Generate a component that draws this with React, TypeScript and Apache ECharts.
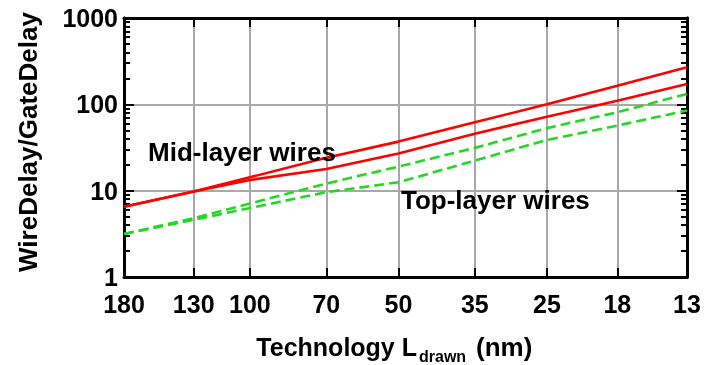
import React, { useEffect, useRef } from "react";
import * as echarts from "echarts";

const techNodes = [180, 130, 100, 70, 50, 35, 25, 18, 13];
const midLayerUpper = [6.5, 9.8, 14.3, 24, 37, 62, 100, 164, 269];
const midLayerLower = [6.5, 9.8, 13.3, 17.8, 27, 45.5, 72, 110, 172];
const topLayerUpper = [3.15, 4.8, 7.1, 12.1, 19, 31.3, 53, 81, 132];
const topLayerLower = [3.15, 4.6, 6.3, 9.6, 12.5, 22.3, 38.7, 56.8, 84.6];
const yMajorTicks = [1, 10, 100, 1000];
const yMinorTicks = [2, 3, 4, 5, 6, 7, 8, 9, 20, 30, 40, 50, 60, 70, 80, 90, 200, 300, 400, 500, 600, 700, 800, 900];

const FONT = '"Liberation Sans", Arial, Helvetica, sans-serif';
const lg = (v: number) => Math.log10(v);

export default function App() {
  const ref = useRef<HTMLDivElement>(null);

  useEffect(() => {
    if (!ref.current) return;
    const chart = echarts.init(ref.current, null, { renderer: "svg" });

    const xMin = lg(Math.min(...techNodes));
    const xMax = lg(Math.max(...techNodes));
    const yMin = lg(yMajorTicks[0]);
    const yMax = lg(yMajorTicks[yMajorTicks.length - 1]);
    const xTicks = techNodes.map(lg);
    const yMinor = yMinorTicks.map(lg);

    const mk = (vals: number[]) => techNodes.map((n, i) => [lg(n), lg(vals[i])]);
    const red = { color: "#ff0000", width: 2.6 };
    const green = { color: "#22d822", width: 2.6, type: [10, 5] as any };
    const tickStyle = { color: "#000", width: 2 };

    const baseX = {
      type: "value" as const,
      min: xMin,
      max: xMax,
      inverse: true,
      axisLine: { show: true, onZero: false, lineStyle: { color: "#000", width: 3 } },
    };
    const baseY = {
      type: "value" as const,
      min: yMin,
      max: yMax,
      interval: 1,
      axisLine: { show: true, onZero: false, lineStyle: { color: "#000", width: 3 } },
    };

    chart.setOption({
      animation: false,
      grid: { left: 124, right: 24, top: 18, bottom: 88, containLabel: false },
      xAxis: [
        {
          ...baseX,
          position: "bottom",
          axisTick: { show: true, inside: true, length: 9, lineStyle: tickStyle, customValues: xTicks },
          axisLabel: {
            show: true,
            customValues: xTicks,
            formatter: (v: number) => String(Math.round(Math.pow(10, v))),
            fontSize: 25,
            fontWeight: "bold",
            fontFamily: FONT,
            color: "#000",
            margin: 14,
          },
          splitLine: { show: true, lineStyle: { color: "#a8a8a8", width: 2 } },
        },
        {
          ...baseX,
          position: "top",
          axisTick: { show: true, inside: true, length: 9, lineStyle: tickStyle, customValues: xTicks },
          axisLabel: { show: false },
          splitLine: { show: false },
        },
      ],
      yAxis: [
        {
          ...baseY,
          position: "left",
          axisTick: { show: true, inside: true, length: 10, lineStyle: tickStyle },
          axisLabel: {
            show: true,
            formatter: (v: number) => String(Math.round(Math.pow(10, v))),
            fontSize: 25,
            fontWeight: "bold",
            fontFamily: FONT,
            color: "#000",
            margin: 6,
          },
          splitLine: { show: true, lineStyle: { color: "#a8a8a8", width: 2 } },
        },
        {
          ...baseY,
          position: "left",
          axisTick: { show: true, inside: true, length: 6, lineStyle: tickStyle, customValues: yMinor },
          axisLabel: { show: false },
          splitLine: { show: false },
        },
        {
          ...baseY,
          position: "right",
          axisTick: { show: true, inside: true, length: 10, lineStyle: tickStyle },
          axisLabel: { show: false },
          splitLine: { show: false },
        },
        {
          ...baseY,
          position: "right",
          axisTick: { show: true, inside: true, length: 6, lineStyle: tickStyle, customValues: yMinor },
          axisLabel: { show: false },
          splitLine: { show: false },
        },
      ],
      series: [
        { name: "Mid-layer upper", type: "line", data: mk(midLayerUpper), showSymbol: false, symbol: "none", lineStyle: red, z: 5 },
        { name: "Mid-layer lower", type: "line", data: mk(midLayerLower), showSymbol: false, symbol: "none", lineStyle: red, z: 5 },
        { name: "Top-layer upper", type: "line", data: mk(topLayerUpper), showSymbol: false, symbol: "none", lineStyle: green, z: 4 },
        { name: "Top-layer lower", type: "line", data: mk(topLayerLower), showSymbol: false, symbol: "none", lineStyle: green, z: 4 },
      ],
      graphic: [
        {
          type: "text",
          x: 28,
          y: 142,
          rotation: Math.PI / 2,
          style: { text: "WireDelay/GateDelay", font: `bold 26px ${FONT}`, fill: "#000", textAlign: "center", textVerticalAlign: "middle" },
        },
        {
          type: "text",
          x: 148,
          y: 152,
          z: 10,
          style: { text: "Mid-layer wires", font: `bold 26px ${FONT}`, fill: "#000", textAlign: "left", textVerticalAlign: "middle" },
        },
        {
          type: "text",
          x: 401,
          y: 200,
          z: 10,
          style: { text: "Top-layer wires", font: `bold 26px ${FONT}`, fill: "#000", textAlign: "left", textVerticalAlign: "middle" },
        },
        {
          type: "text",
          x: 417,
          y: 347,
          style: { text: "Technology L", font: `bold 25px ${FONT}`, fill: "#000", textAlign: "right", textVerticalAlign: "middle" },
        },
        {
          type: "text",
          x: 419,
          y: 356,
          style: { text: "drawn", font: `bold 16px ${FONT}`, fill: "#000", textAlign: "left", textVerticalAlign: "middle" },
        },
        {
          type: "text",
          x: 476,
          y: 347,
          style: { text: "(nm)", font: `bold 26px ${FONT}`, fill: "#000", textAlign: "left", textVerticalAlign: "middle" },
        },
      ],
    });

    return () => chart.dispose();
  }, []);

  return <div ref={ref} style={{ position: "fixed", left: 0, top: 0, width: 711, height: 365 }} />;
}
